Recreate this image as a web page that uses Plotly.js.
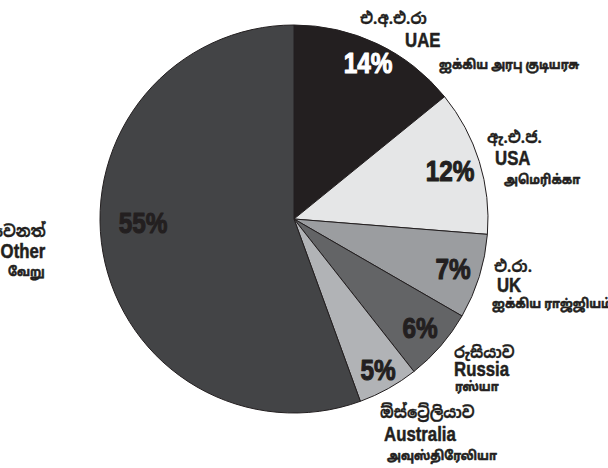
<!DOCTYPE html>
<html>
<head>
<meta charset="utf-8">
<script src="https://cdn.plot.ly/plotly-3.0.1.min.js"></script>
<style>html,body{margin:0;padding:0;background:#fff}#chart{width:608px;height:468px}</style>
</head>
<body>
<div id="chart"></div>
<script>
// ---- data ----
var categories = ["UAE", "USA", "UK", "Russia", "Australia", "Other"];
var sinhalaNames = ["එ.අ.එ.රා", "ඇ.එ.ජ.", "එ.රා.", "රුසියාව", "ඕස්ට්‍රේලියාව", "වෙනත්"];
var tamilNames = ["ஐக்கிய அரபு குடியரசு", "அமெரிக்கா", "ஐக்கிய ராஜ்ஜியம்", "ரஸ்யா", "அவுஸ்திரேலியா", "வேறு"];
var shares = [14, 12, 7, 6, 5, 55];

// ---- style ----
var W = 608, H = 468;
var cx = 294, cy = 219, R = 194;
var sliceColors = ["#231f20", "#e5e6e7", "#9b9da0", "#636466", "#b1b3b6", "#434446"];
var pctColors = ["#ffffff", "#231f20", "#231f20", "#231f20", "#231f20", "#231f20"];
var pctRadius = [0.89, 0.84, 0.86, 0.86, 0.89, 0.78];
var pctAngleShift = [0, 0, 0, 0, 0, 8.5];
var labelBlocks = [
  {xs: 358, xe: 403, xt: 437, ys: 19, ye: 40, yt: 66, anchor: "left"},
  {xs: 485, xe: 493, xt: 502, ys: 137, ye: 158, yt: 181, anchor: "left"},
  {xs: 492, xe: 495, xt: 490, ys: 266, ye: 285, yt: 304, anchor: "left"},
  {xs: 452, xe: 452, xt: 453, ys: 352, ye: 369, yt: 388, anchor: "left"},
  {xs: 378, xe: 382, xt: 385, ys: 412, ye: 434, yt: 456, anchor: "left"},
  {xs: 48, xe: 48, xt: 47, ys: 231, ye: 251, yt: 272, anchor: "right"}
];

var latin = "Liberation Sans, Arial, sans-serif";
var sinhalaFont = "Noto Sans Sinhala, Liberation Sans, sans-serif";
var tamilFont = "Noto Sans Tamil, Liberation Sans, sans-serif";
var pctScale = 0.84, engScale = 0.84, sinScale = 0.95, tamScale = 0.88;

var total = shares.reduce(function(a, b) { return a + b; }, 0);
var annotations = [];
var scales = [];
var cum = 0;
function addAnn(px, py, anchor, text, font, s, stroke) {
  annotations.push({
    xref: "paper", yref: "paper", x: px / W, y: 1 - py / H,
    xanchor: anchor, yanchor: "middle", showarrow: false,
    text: text, font: font
  });
  scales.push({s: s, anchor: anchor, stroke: stroke, color: font.color});
}
shares.forEach(function(v, i) {
  var mid = (cum + v / 2) / total * 360 + pctAngleShift[i];
  cum += v;
  var th = mid * Math.PI / 180;
  var r = R * pctRadius[i];
  addAnn(cx + r * Math.sin(th), cy - r * Math.cos(th), "center", Math.round(v) + "%",
    {family: latin, size: 29, color: pctColors[i], weight: "bold"}, pctScale, 1.1);
  var b = labelBlocks[i];
  addAnn(b.xs, b.ys, b.anchor, sinhalaNames[i],
    {family: sinhalaFont, size: 16, color: "#231f20", weight: "bold"}, sinScale, 0.3);
  addAnn(b.xe, b.ye, b.anchor, categories[i],
    {family: latin, size: 20, color: "#231f20", weight: "bold"}, engScale, 0.5);
  addAnn(b.xt, b.yt, b.anchor, tamilNames[i],
    {family: tamilFont, size: 13, color: "#231f20", weight: "bold"}, tamScale, 0.6);
});

var trace = {
  type: "pie",
  labels: categories,
  values: shares,
  sort: false,
  direction: "clockwise",
  rotation: 0,
  textinfo: "none",
  hoverinfo: "label+percent",
  marker: {colors: sliceColors, line: {color: "#231f20", width: 1}},
  domain: {x: [(cx - R) / W, (cx + R) / W], y: [1 - (cy + R) / H, 1 - (cy - R) / H]},
  showlegend: false
};

var layout = {
  width: W, height: H,
  margin: {l: 0, r: 0, t: 0, b: 0},
  paper_bgcolor: "#ffffff",
  plot_bgcolor: "#ffffff",
  showlegend: false,
  annotations: annotations
};

Plotly.newPlot("chart", [trace], layout, {displayModeBar: false, staticPlot: true}).then(function(gd) {
  // condense annotation text horizontally (keeping its anchor edge fixed) and thicken strokes
  var groups = gd.querySelectorAll("g.annotation");
  groups.forEach(function(g) {
    var idx = +g.getAttribute("data-index");
    var sc = scales[idx];
    var t = g.querySelector("text");
    if (!sc || !t) return;
    var bb = t.getBBox();
    var ax = sc.anchor === "left" ? bb.x : (sc.anchor === "right" ? bb.x + bb.width : bb.x + bb.width / 2);
    var prev = t.getAttribute("transform") || "";
    t.setAttribute("transform", prev + " translate(" + ax + ",0) scale(" + sc.s + ",1) translate(" + (-ax) + ",0)");
    if (sc.stroke > 0) {
      t.style.stroke = sc.color;
      t.style.strokeWidth = sc.stroke + "px";
      t.style.strokeLinejoin = "round";
    }
  });
});
</script>
</body>
</html>
